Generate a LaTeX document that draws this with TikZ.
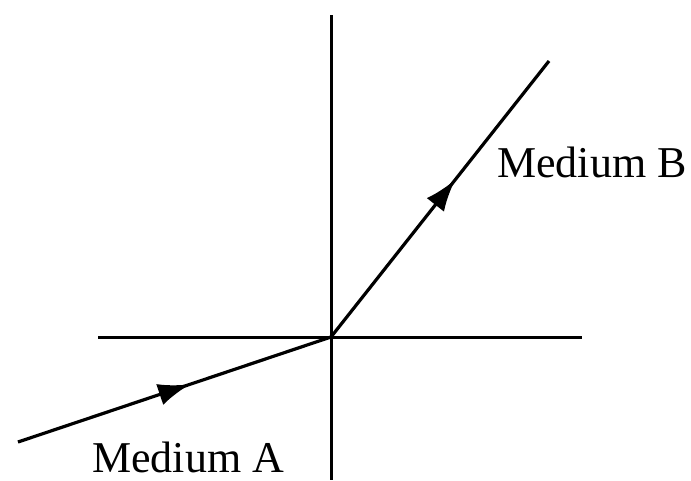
\documentclass[tikz,border=0pt]{standalone}
\usepackage{fontspec}
\setmainfont{Liberation Serif}
\usetikzlibrary{arrows.meta,decorations.markings}
\tikzset{
  axis/.style={line width=3pt},
  ray/.style={line width=3.2pt},
  midarrow/.style={postaction={decorate},decoration={markings,
    mark=at position #1 with {\arrow{Latex[length=32pt,width=22pt]}}}},
  lbl/.style={anchor=base west,inner sep=0pt,font=\fontsize{44}{44}\selectfont}
}
\begin{document}
\begin{tikzpicture}[x=1pt,y=-1pt]
\useasboundingbox (0,0) rectangle (691,480);
\coordinate (O) at (331,337);
\coordinate (vtop) at (331,15);
\coordinate (vbot) at (331,480);
\coordinate (hl) at (98,337);
\coordinate (hr) at (582,337);
\coordinate (A) at (18,442);
\coordinate (B) at (549,61);
\draw[axis] (vtop) -- (vbot);
\draw[axis] (hl) -- (hr);
\draw[ray,midarrow=0.55] (A) -- (O);
\draw[ray,midarrow=0.57] (O) -- (B);
\node[lbl] (mb) at (497,177) {Medium B};
\node[lbl] (ma) at (92,472) {Medium A};
\end{tikzpicture}
\end{document}
